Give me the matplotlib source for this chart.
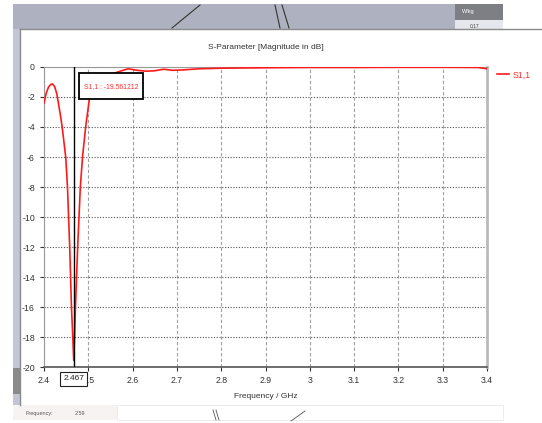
import matplotlib
matplotlib.use("Agg")
import matplotlib.pyplot as plt
from matplotlib.patches import Rectangle
from matplotlib.lines import Line2D

plt.rcParams['font.family'] = ['Noto Sans Condensed', 'DejaVu Sans Condensed',
                               'Liberation Sans Narrow', 'Liberation Sans']
plt.rcParams['axes.unicode_minus'] = False

# S11 curve (GHz, dB)
freq = [2.400, 2.405, 2.410, 2.415, 2.419, 2.424, 2.429, 2.433, 2.437, 2.441,
        2.445, 2.449, 2.453, 2.458, 2.462, 2.465, 2.467, 2.469, 2.471, 2.476,
        2.482, 2.487, 2.494, 2.503, 2.520, 2.550, 2.575, 2.590, 2.610, 2.630,
        2.650, 2.670, 2.690, 2.710, 2.750, 2.800, 2.900, 3.000, 3.100, 3.200,
        3.300, 3.380, 3.400]
s11 = [-2.40, -1.75, -1.35, -1.17, -1.13, -1.30, -1.80, -2.50, -3.20, -4.00,
       -5.00, -6.00, -8.00, -12.0, -16.0, -18.0, -19.56, -18.0, -16.0, -12.0,
       -8.00, -6.00, -4.00, -2.00, -1.00, -0.50, -0.25, -0.12, -0.22, -0.28,
       -0.25, -0.15, -0.22, -0.20, -0.12, -0.08, -0.05, -0.03, -0.03, -0.02,
       -0.02, -0.03, -0.12]
xticks = [2.4, 2.5, 2.6, 2.7, 2.8, 2.9, 3.0, 3.1, 3.2, 3.3, 3.4]
xticklabels = ['2.4', '2.5', '2.6', '2.7', '2.8', '2.9', '3', '3.1', '3.2', '3.3', '3.4']
yticks = list(range(-20, 1, 2))
marker_f = 2.467
marker_val = -19.561212

W, H = 542, 423
fig = plt.figure(figsize=(W / 100, H / 100), dpi=100)

def px(x0, y0, w, h, **kw):
    # rectangle in screen pixels (top-left origin)
    fig.patches.append(Rectangle((x0 / W, 1 - (y0 + h) / H), w / W, h / H,
                                 transform=fig.transFigure, **kw))

def pline(xs, ys, **kw):
    fig.lines.append(Line2D([x / W for x in xs], [1 - y / H for y in ys],
                            transform=fig.transFigure, **kw))

# window background of the screenshot
px(13, 4, 490, 25, facecolor='#aeb2c0', edgecolor='none')
px(455, 4, 48, 16, facecolor='#7d7f85', edgecolor='none')
px(455, 20, 48, 9, facecolor='#e6e7ec', edgecolor='none')
fig.text(462 / W, 1 - 12 / H, 'W/kg', fontsize=4, color='white', va='center')
fig.text(470 / W, 1 - 26 / H, '0.17', fontsize=3.5, color='#444', va='center')
px(13, 29, 7, 378, facecolor='#c3c6d3', edgecolor='none')
px(13, 368, 7, 26, facecolor='#8a8a8a', edgecolor='none')
px(13, 405, 104, 15, facecolor='#f7f3f3', edgecolor='none')
px(117, 405, 386, 15, facecolor='white', edgecolor='#e8e8ee', linewidth=0.6)
pline([172, 200], [28, 5], color='#333', lw=0.8)
pline([275, 280], [5, 28], color='#333', lw=0.8)
pline([282, 289], [5, 28], color='#333', lw=0.8)
pline([213, 216], [410, 420], color='#555', lw=0.6)
pline([216, 219], [410, 420], color='#555', lw=0.6)
pline([291, 305], [421, 411], color='#555', lw=0.6)
fig.text(25 / W, 1 - 413 / H, 'Frequency:', fontsize=4, color='#555', va='center')
fig.text(75 / W, 1 - 413 / H, '2.59', fontsize=4, color='#555', va='center')
# panel border
pline([20, 542], [29, 29], color='#8a8a8a', lw=1.0)
pline([20, 20], [29, 405], color='#8a8a8a', lw=1.0)

ax = fig.add_axes([44 / W, 1 - 367 / H, (487 - 44) / W, (367 - 67) / H])
ax.plot(freq, s11, color='#ff1a1a', lw=1.2, label='S1,1', zorder=3)
ax.axvline(marker_f, color='black', lw=1.0, zorder=4)

ax.set_xlim(2.4, 3.4)
ax.set_ylim(-20, 0)
ax.set_xticks(xticks)
ax.set_xticklabels(xticklabels)
ax.set_yticks(yticks)
ax.xaxis.grid(True, color='#a0a0a0', linestyle=(0, (3, 2)), linewidth=0.8)
ax.yaxis.grid(True, color='#555555', linestyle=(0, (1, 1.5)), linewidth=0.8)
ax.tick_params(labelsize=6.3, colors='#333333', length=3, width=0.8)
for side in ['top', 'left']:
    ax.spines[side].set_color('#999999')
ax.spines['bottom'].set_color('#555555')
ax.spines['bottom'].set_linewidth(1.2)
ax.spines['right'].set_color('#bbbbbb')
ax.spines['right'].set_linewidth(2.0)

ax.set_title('S-Parameter [Magnitude in dB]', fontsize=6, color='#333', pad=13)
ax.set_xlabel('Frequency / GHz', fontsize=6, color='#333', labelpad=6)

# marker readout box
ax.add_patch(Rectangle((0.079, 0.893), 0.145, 0.087, transform=ax.transAxes,
                       facecolor='white', edgecolor='black', linewidth=1.3, zorder=6))
ax.text(0.1515, 0.9365, f'S1,1 : {marker_val:.6f}', transform=ax.transAxes,
        fontsize=4.9, color='#ff3030', va='center', ha='center', zorder=7)
ax.annotate(f'{marker_f:.3f}', xy=(marker_f, 0), xycoords=('data', 'axes fraction'),
            xytext=(0, -8.5), textcoords='offset points', ha='center', va='center',
            fontsize=6, color='#222', zorder=6, annotation_clip=False,
            bbox=dict(boxstyle='square,pad=0.4', facecolor='white', edgecolor='#222', linewidth=0.8))

ax.legend(loc='upper left', bbox_to_anchor=(1.015, 1.0), frameon=False, fontsize=6.3,
          handlelength=1.4, handletextpad=0.4, labelcolor='#ff3030', borderaxespad=0)

fig.savefig('out.png', dpi=100)
